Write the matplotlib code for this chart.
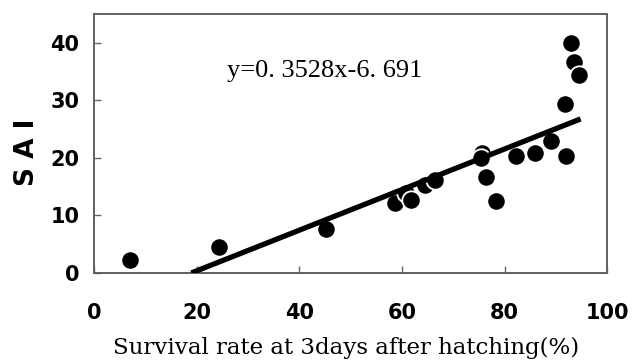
import numpy as np
import matplotlib
matplotlib.use("Agg")
from matplotlib import pyplot as plt

# survival rate (%) vs SAI
survival = [7.0, 24.3, 45.2, 58.6, 60.8, 61.8, 64.4, 66.4, 75.6, 75.4, 76.4,
            78.4, 82.2, 86.0, 89.0, 92.0, 91.8, 93.0, 93.6, 94.4]
sai = [2.3, 4.5, 7.7, 12.2, 13.8, 12.6, 15.2, 16.1, 20.9, 20.0, 16.6,
       12.5, 20.3, 20.8, 22.9, 20.3, 29.3, 39.9, 36.7, 34.4]

slope = 0.3528
intercept = -6.691
line_x_end = 94.8
x_ticks = [0, 20, 40, 60, 80, 100]
y_ticks = [0, 10, 20, 30, 40]

fig = plt.figure(figsize=(6.44, 3.61), dpi=100)
ax = fig.add_axes([0.146, 0.244, 0.797, 0.7175])

ax.scatter(survival, sai, s=175, c="black", edgecolors="white", linewidths=1.3, zorder=3)

x0 = -intercept / slope
lx = np.array([x0, line_x_end])
ax.plot(lx, slope * lx + intercept, color="black", lw=3.8, solid_capstyle="butt", zorder=4)

ax.set_xlim(0, 100)
ax.set_ylim(0, 45)
ax.set_xticks(x_ticks)
ax.set_yticks(y_ticks)
ax.tick_params(direction="in", length=5, width=1, color="#666666")
ax.tick_params(axis="x", pad=22)
ax.tick_params(axis="y", pad=10.5)
for lab in ax.get_xticklabels() + ax.get_yticklabels():
    lab.set_family("DejaVu Sans")
    lab.set_fontweight("bold")
    lab.set_fontsize(15)
for sp in ax.spines.values():
    sp.set_color("#606060")
    sp.set_linewidth(1.4)

ax.set_ylabel("S A I", family="DejaVu Sans", fontweight="bold", fontsize=19, va="center")
ax.yaxis.set_label_coords(-0.13, 0.467)
ax.set_xlabel("Survival rate at 3days after hatching(%)", family="DejaVu Serif",
              fontsize=16.5, va="baseline")
ax.xaxis.set_label_coords(0.491, -0.3127)
ax.text(25.9, 35.0, "y=0. 3528x-6. 691", family="Liberation Serif", fontsize=19,
        va="center", ha="left")

fig.savefig("out.png", dpi=100)
